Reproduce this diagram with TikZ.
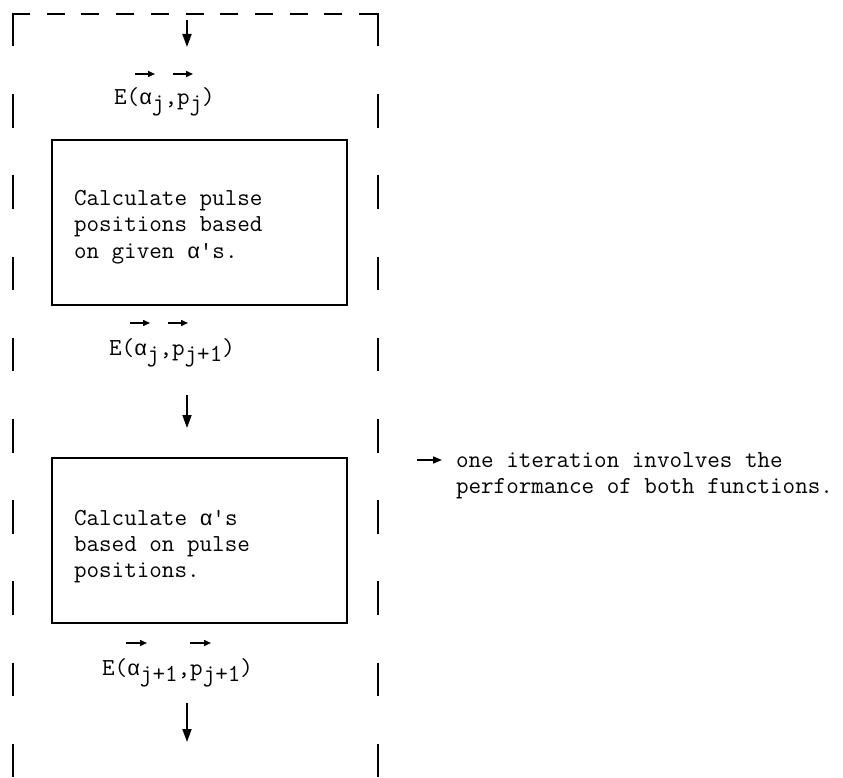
\documentclass[tikz,border=0pt]{standalone}
\usepackage{fontspec}
\usetikzlibrary{arrows.meta}
% upright monospace alpha, kept to the width of one typewriter cell
\newfontfamily\greekmono[Scale=0.88]{Liberation Mono}
\newcommand\galpha{\makebox[0.525em]{\greekmono α}}
% subscript in the same size, only lowered
\newcommand\lowsub[1]{\raisebox{-6pt}{#1}}
\begin{document}
\begin{tikzpicture}[x=1pt,y=-1pt,
  every node/.style={inner sep=0pt, outer sep=0pt},
  mono/.style={font=\ttfamily\fontsize{24.4}{26}\selectfont, anchor=base west},
  procbox/.style={draw, line width=1.8pt, minimum width=295pt, minimum height=165pt},
  border/.style={line width=2pt, line cap=rect},
  flow/.style={line width=1.8pt, -{Triangle[length=13pt,width=9pt]}},
  vec/.style={line width=1.5pt, -{Triangle[length=7pt,width=6pt]}}]
\useasboundingbox (0,0) rectangle (843,778);

% dashed enclosure (open at the bottom)
\draw[border, dash pattern=on 16pt off 18.7pt] (13,14) -- (378,14);
\draw[border, dash pattern=on 31.5pt off 49.7pt] (13,14) -- (13,790);
\draw[border, dash pattern=on 31.5pt off 49.7pt] (378,14) -- (378,790);

% flow arrows
\coordinate (in0) at (187,20);   \coordinate (in1) at (187,47);
\coordinate (mid0) at (187,395); \coordinate (mid1) at (187,428);
\coordinate (out0) at (187,703); \coordinate (out1) at (187,742);
\draw[flow] (in0) -- (in1);
\draw[flow] (mid0) -- (mid1);
\draw[flow] (out0) -- (out1);

% labels E(alpha, p) with vector arrows
\node[mono] (e1) at (114,105) {E(\galpha\lowsub{j},p\lowsub{j})};
\draw[vec] (135,74) -- (155,74);
\draw[vec] (173,74) -- (193,74);

\node[mono] (e2) at (109,355) {E(\galpha\lowsub{j},p\lowsub{j+1})};
\draw[vec] (130,323) -- (150,323);
\draw[vec] (168,323) -- (188,323);

\node[mono] (e3) at (102,675) {E(\galpha\lowsub{j+1},p\lowsub{j+1})};
\draw[vec] (126,643) -- (147,643);
\draw[vec] (190,643) -- (211,643);

% process boxes
\node[procbox] (posbox) at (199.5,222.5) {};
\node[mono] (t1a) at (74,206) {Calculate pulse};
\node[mono] (t1b) at (74,232) {positions based};
\node[mono] (t1c) at (74,258) {on given \galpha's.};

\node[procbox] (alphabox) at (199.5,540.5) {};
\node[mono] (t2a) at (74,525) {Calculate \galpha's};
\node[mono] (t2b) at (74,551) {based on pulse};
\node[mono] (t2c) at (74,577) {positions.};

% legend
\coordinate (lg0) at (417,460); \coordinate (lg1) at (442,460);
\draw[vec, -{Triangle[length=9pt,width=7pt]}] (lg0) -- (lg1);
\node[mono] (lega) at (456,467) {one iteration involves the};
\node[mono] (legb) at (456,493) {performance of both functions.};
\end{tikzpicture}
\end{document}
